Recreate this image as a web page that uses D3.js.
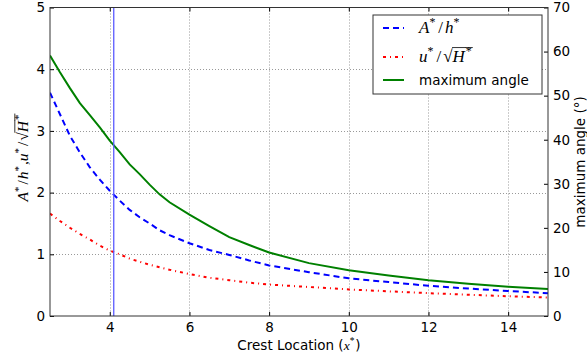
<!DOCTYPE html>
<html>
<head>
<meta charset="utf-8">
<script src="https://cdn.jsdelivr.net/npm/d3@7"></script>
<style>
  body { margin: 0; background: #fff; }
  svg { display: block; }
  .tick text { font-family: "DejaVu Sans", sans-serif; font-size: 13.5px; fill: #000; }
  .tick line { stroke: #000; }
</style>
</head>
<body>
<div id="chart"></div>
<script>
// crest location x*
const crestX = [2.5, 2.75, 3, 3.25, 3.5, 3.75, 4, 4.25, 4.5, 4.75, 5, 5.25, 5.5, 6, 6.5, 7, 7.5, 8, 9, 10, 11, 12, 13, 14, 15];
// A*/h*
const ampRatio = [3.62, 3.27, 2.92, 2.65, 2.41, 2.21, 2.03, 1.87, 1.72, 1.60, 1.50, 1.39, 1.31, 1.18, 1.07, 0.99, 0.90, 0.82, 0.71, 0.61, 0.55, 0.49, 0.445, 0.405, 0.37];
// u*/sqrt(H*)
const velRatio = [1.66, 1.54, 1.43, 1.33, 1.24, 1.14, 1.06, 1.00, 0.93, 0.88, 0.83, 0.79, 0.75, 0.68, 0.62, 0.58, 0.54, 0.51, 0.47, 0.43, 0.40, 0.37, 0.345, 0.32, 0.30];
// maximum angle, degrees (right axis)
const maxAngle = [59.1, 55.3, 51.7, 48.3, 45.6, 42.8, 39.8, 37.2, 34.4, 32.2, 29.8, 27.6, 25.8, 23.0, 20.4, 17.9, 16.1, 14.4, 12.0, 10.4, 9.2, 8.1, 7.3, 6.65, 6.15];
const markerX = 4.1;

const xTicks = [4, 6, 8, 10, 12, 14];
const yLeftTicks = [0, 1, 2, 3, 4, 5];
const yRightTicks = [0, 10, 20, 30, 40, 50, 60, 70];

const W = 587, H = 358;
const margin = { top: 7.5, right: 39, bottom: 42, left: 50 };
const plotW = W - margin.left - margin.right;
const plotH = H - margin.top - margin.bottom;

const svg = d3.select('#chart').append('svg').attr('width', W).attr('height', H);

const x = d3.scaleLinear().domain([2.5, 15]).range([margin.left, margin.left + plotW]);
const yL = d3.scaleLinear().domain([0, 5]).range([margin.top + plotH, margin.top]);
const yR = d3.scaleLinear().domain([0, 70]).range([margin.top + plotH, margin.top]);

// grid
const grid = svg.append('g').attr('stroke', '#999').attr('stroke-width', 1).attr('stroke-dasharray', '1,2');
grid.selectAll('.gx').data(xTicks).enter().append('line')
  .attr('x1', d => Math.round(x(d)) + 0.5).attr('x2', d => Math.round(x(d)) + 0.5)
  .attr('y1', margin.top).attr('y2', margin.top + plotH);
grid.selectAll('.gy').data(yLeftTicks.slice(1, -1)).enter().append('line')
  .attr('y1', d => Math.round(yL(d)) + 0.5).attr('y2', d => Math.round(yL(d)) + 0.5)
  .attr('x1', margin.left).attr('x2', margin.left + plotW);

// series
svg.append('clipPath').attr('id', 'clip').append('rect')
  .attr('x', margin.left).attr('y', margin.top).attr('width', plotW).attr('height', plotH);
const lines = svg.append('g').attr('clip-path', 'url(#clip)');

const lineL = d3.line().x((d, i) => x(crestX[i])).y(d => yL(d));
const lineR = d3.line().x((d, i) => x(crestX[i])).y(d => yR(d));

lines.append('path').datum(ampRatio).attr('d', lineL)
  .attr('fill', 'none').attr('stroke', '#0000ff').attr('stroke-width', 2).attr('stroke-dasharray', '6,4');
lines.append('path').datum(velRatio).attr('d', lineL)
  .attr('fill', 'none').attr('stroke', '#ff0000').attr('stroke-width', 2).attr('stroke-dasharray', '3,4,1,4');
lines.append('path').datum(maxAngle).attr('d', lineR)
  .attr('fill', 'none').attr('stroke', '#008000').attr('stroke-width', 2);

lines.append('line')
  .attr('x1', x(markerX)).attr('x2', x(markerX))
  .attr('y1', margin.top).attr('y2', margin.top + plotH)
  .attr('stroke', '#5a5aff').attr('stroke-width', 1.3);

// axes (ticks pointing inward)
svg.append('g').attr('transform', `translate(0,${margin.top + plotH})`)
  .call(d3.axisBottom(x).tickValues(xTicks).tickSizeInner(-4).tickSizeOuter(0).tickPadding(6).tickFormat(d3.format('d')))
  .call(g => g.select('.domain').remove());
svg.append('g').attr('transform', `translate(0,${margin.top})`)
  .call(d3.axisTop(x).tickValues(xTicks).tickSizeInner(-4).tickSizeOuter(0).tickFormat(''))
  .call(g => g.select('.domain').remove());
svg.append('g').attr('transform', `translate(${margin.left},0)`)
  .call(d3.axisLeft(yL).tickValues(yLeftTicks).tickSizeInner(-4).tickSizeOuter(0).tickPadding(5).tickFormat(d3.format('d')))
  .call(g => g.select('.domain').remove());
svg.append('g').attr('transform', `translate(${margin.left + plotW},0)`)
  .call(d3.axisRight(yR).tickValues(yRightTicks).tickSizeInner(-4).tickSizeOuter(0).tickPadding(5).tickFormat(d3.format('d')))
  .call(g => g.select('.domain').remove());

svg.selectAll('.tick text').attr('font-family', null).attr('font-size', null);

// frame
svg.append('rect').attr('x', margin.left).attr('y', margin.top).attr('width', plotW).attr('height', plotH)
  .attr('fill', 'none').attr('stroke', '#333').attr('stroke-width', 1);

// math-ish text builder
function mathText(parent, items, size) {
  const g = parent.append('g');
  let cx = 0;
  items.forEach(it => {
    const fs = it.sup ? size * 0.7 : size;
    const t = g.append('text')
      .attr('x', cx).attr('y', it.sup ? -size * 0.42 : 0)
      .attr('font-family', it.sans ? '"DejaVu Sans", sans-serif' : '"Liberation Serif", serif')
      .attr('font-style', it.it ? 'italic' : 'normal')
      .attr('font-size', fs).text(it.t);
    const w = t.node().getComputedTextLength();
    if (it.over) {
      g.append('line').attr('x1', cx - 0.5).attr('x2', cx + w + 1)
        .attr('y1', -size * 0.85).attr('y2', -size * 0.85)
        .attr('stroke', '#000').attr('stroke-width', 0.8);
    }
    cx += w + (it.gap || 0);
  });
  return { g, width: cx };
}

const ampLabel = [
  { t: 'A', it: true }, { t: '*', sup: true, gap: 3 }, { t: '/', gap: 2 }, { t: 'h', it: true }, { t: '*', sup: true }
];
const velLabel = [
  { t: 'u', it: true }, { t: '*', sup: true, gap: 3 }, { t: '/', gap: 2 }, { t: '√' },
  { t: 'H', it: true, over: true, gap: 1 }, { t: '*', sup: true, over: true }
];
const bothLabel = [
  { t: 'A', it: true }, { t: '*', sup: true, gap: 2 }, { t: '/', gap: 1 }, { t: 'h', it: true }, { t: '*', sup: true, gap: 1 },
  { t: ',' }, { t: 'u', it: true }, { t: '*', sup: true, gap: 2 }, { t: '/', gap: 1 }, { t: '√' },
  { t: 'H', it: true, over: true, gap: 1 }, { t: '*', sup: true, over: true }
];

// legend
const legend = svg.append('g');
legend.append('rect').attr('x', 373).attr('y', 15).attr('width', 169).attr('height', 79)
  .attr('fill', '#fff').attr('stroke', '#333').attr('stroke-width', 1);
const legRows = [
  { y: 28, stroke: '#0000ff', dash: '6,4', label: ampLabel },
  { y: 57, stroke: '#ff0000', dash: '3,4,1,4', label: velLabel },
  { y: 80, stroke: '#008000', dash: null, text: 'maximum angle' }
];
legRows.forEach(r => {
  legend.append('line').attr('x1', 383).attr('x2', 404).attr('y1', r.y).attr('y2', r.y)
    .attr('stroke', r.stroke).attr('stroke-width', 2).attr('stroke-dasharray', r.dash);
  if (r.label) {
    const m = mathText(legend, r.label, 17);
    m.g.attr('transform', `translate(419,${r.y + 5})`);
  } else {
    legend.append('text').attr('x', 419).attr('y', r.y + 5)
      .attr('font-family', '"DejaVu Sans", sans-serif').attr('font-size', 13.5).text(r.text);
  }
});

// x label
const xl = mathText(svg, [
  { t: 'Crest Location (', sans: true }, { t: 'x', it: true }, { t: '*', sup: true, gap: 1 }, { t: ')', sans: true }
], 13.5);
xl.g.attr('transform', `translate(${x(8.75) - xl.width / 2},350)`);

// left y label
const ylg = svg.append('g').attr('transform', 'translate(28,158) rotate(-90)');
const yl = mathText(ylg, bothLabel, 15.5);
yl.g.attr('transform', `translate(${-yl.width / 2},0)`);

// right y label
svg.append('text').attr('transform', 'translate(585,162) rotate(-90)')
  .attr('text-anchor', 'middle').attr('font-family', '"DejaVu Sans", sans-serif').attr('font-size', 13.5)
  .text('maximum angle (°)');
</script>
</body>
</html>
